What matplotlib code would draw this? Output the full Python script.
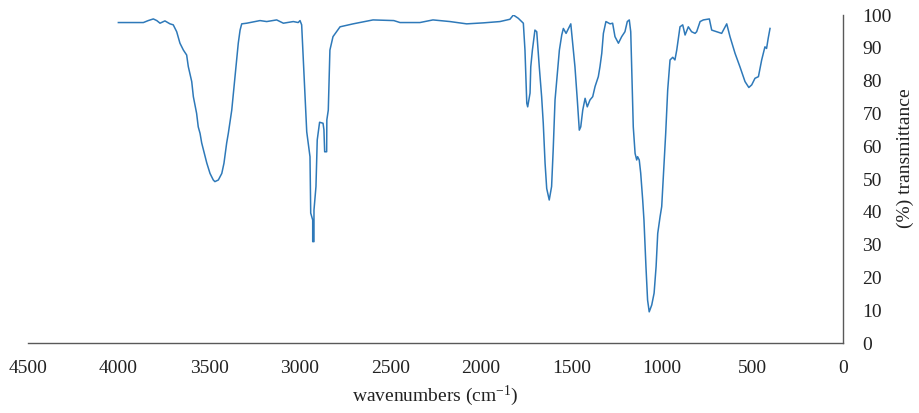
import numpy as np
import matplotlib
matplotlib.use('Agg')
import matplotlib.pyplot as plt

plt.rcParams['font.family'] = ['Liberation Serif', 'DejaVu Serif']
plt.rcParams['mathtext.default'] = 'regular'
FONT_SIZE = 14
LINE_COLOR = '#2e79b9'
AXIS_COLOR = '#595959'

# FTIR spectrum, wavenumber (cm-1) vs transmittance (%)
wavenumber = [
    4001, 3919, 3863, 3836, 3808, 3789, 3771, 3744, 3716, 3698, 3679, 3661,
    3642, 3624, 3615, 3596, 3587, 3569, 3560, 3550, 3541, 3513, 3495, 3477,
    3468, 3449, 3430, 3418, 3403, 3394, 3375, 3366, 3357, 3348, 3339, 3329,
    3320, 3292, 3219, 3182, 3127, 3090, 3035, 3008, 2998, 2989, 2980, 2970,
    2961, 2943, 2939, 2928, 2928, 2921, 2921, 2910, 2906, 2903, 2890, 2871,
    2866, 2862, 2851, 2850, 2842, 2833, 2816, 2777, 2705, 2595, 2480, 2446,
    2336, 2264, 2170, 2078, 1986, 1894, 1839, 1820, 1793, 1765, 1756, 1746,
    1741, 1728, 1724, 1715, 1701, 1691, 1677, 1664, 1655, 1645, 1636, 1622,
    1609, 1600, 1590, 1577, 1566, 1553, 1544, 1529, 1503, 1498, 1480, 1467,
    1456, 1448, 1437, 1424, 1412, 1397, 1382, 1369, 1351, 1342, 1332, 1323,
    1309, 1286, 1272, 1259, 1240, 1222, 1204, 1191, 1180, 1172, 1167, 1158,
    1148, 1139, 1134, 1125, 1117, 1106, 1099, 1088, 1079, 1070, 1056, 1043,
    1032, 1023, 1010, 1001, 992, 979, 968, 955, 940, 928, 918, 900,
    885, 872, 854, 836, 817, 808, 789, 771, 738, 725, 697, 670,
    642, 624, 596, 569, 541, 520, 504, 486, 467, 449, 431, 422,
    413, 403,
]
transmittance = [
    97.7, 97.7, 97.7, 98.3, 98.8, 98.3, 97.5, 98.2, 97.3, 97.0, 94.9, 91.4,
    89.3, 87.8, 84.3, 79.7, 75.1, 70.0, 65.9, 63.9, 61.0, 54.9, 51.7, 49.7,
    49.2, 49.7, 51.7, 54.8, 61.0, 63.9, 71.0, 76.1, 81.2, 86.3, 91.4, 95.4,
    97.3, 97.5, 98.3, 98.0, 98.5, 97.5, 98.0, 97.7, 98.3, 97.0, 86.3, 75.1,
    64.4, 56.8, 39.6, 37.5, 30.9, 30.9, 40.5, 47.7, 55.8, 61.9, 67.3, 67.0,
    65.0, 58.3, 58.3, 68.0, 71.0, 89.3, 93.4, 96.4, 97.3, 98.5, 98.3, 97.7,
    97.7, 98.5, 98.0, 97.3, 97.6, 98.0, 98.7, 100.0, 99.0, 97.5, 89.3, 73.1,
    72.0, 76.2, 84.2, 89.3, 95.4, 94.9, 84.2, 75.1, 67.0, 54.8, 47.1, 43.6,
    47.7, 59.1, 74.1, 82.2, 89.3, 93.9, 95.9, 94.4, 97.3, 94.4, 84.2, 74.1,
    64.9, 65.9, 71.0, 74.6, 72.0, 74.1, 75.1, 78.2, 81.2, 84.2, 88.3, 94.4,
    98.0, 97.3, 97.5, 93.4, 91.4, 93.4, 94.9, 98.0, 98.5, 94.9, 84.2, 65.9,
    57.8, 55.8, 56.8, 55.8, 51.8, 43.6, 37.5, 23.3, 13.1, 9.5, 11.6, 15.2,
    23.3, 33.4, 38.5, 41.6, 50.7, 63.9, 77.1, 86.3, 87.1, 86.3, 89.3, 96.4,
    97.0, 93.9, 96.4, 94.9, 94.4, 94.9, 98.0, 98.5, 98.8, 95.4, 94.9, 94.4,
    97.3, 93.4, 88.3, 84.2, 79.7, 77.9, 78.7, 80.7, 81.2, 86.3, 90.3, 89.8,
    92.9, 95.9,
]

x_ticks = np.arange(0, 4501, 500)
y_ticks = np.arange(0, 101, 10)

fig = plt.figure(figsize=(9.19, 4.13), dpi=100)
ax = fig.add_axes([28 / 919, 70 / 413, 815 / 919, 328 / 413])
ax.plot(wavenumber, transmittance, color=LINE_COLOR, linewidth=1.1)

ax.set_xlim(4500, 0)
ax.set_ylim(0, 100)
ax.set_xticks(x_ticks)
ax.set_yticks(y_ticks)
ax.yaxis.tick_right()
ax.tick_params(axis='both', length=0, labelsize=FONT_SIZE, colors='#222222')
ax.tick_params(axis='x', pad=12)
ax.tick_params(axis='y', pad=14)
for lab in ax.get_yticklabels():
    lab.set_horizontalalignment('left')

for side in ('top', 'left'):
    ax.spines[side].set_visible(False)
for side in ('bottom', 'right'):
    ax.spines[side].set_color(AXIS_COLOR)
    ax.spines[side].set_linewidth(1.0)

ax.set_xlabel('wavenumbers (cm$^{-1}$)', fontsize=FONT_SIZE, color='#222222', labelpad=5)
fig.text(905 / 919, 1 - 158 / 413, '(%) transmittance', rotation=90,
         ha='center', va='center', fontsize=FONT_SIZE, color='#222222')

fig.savefig('out.png', dpi=100)
